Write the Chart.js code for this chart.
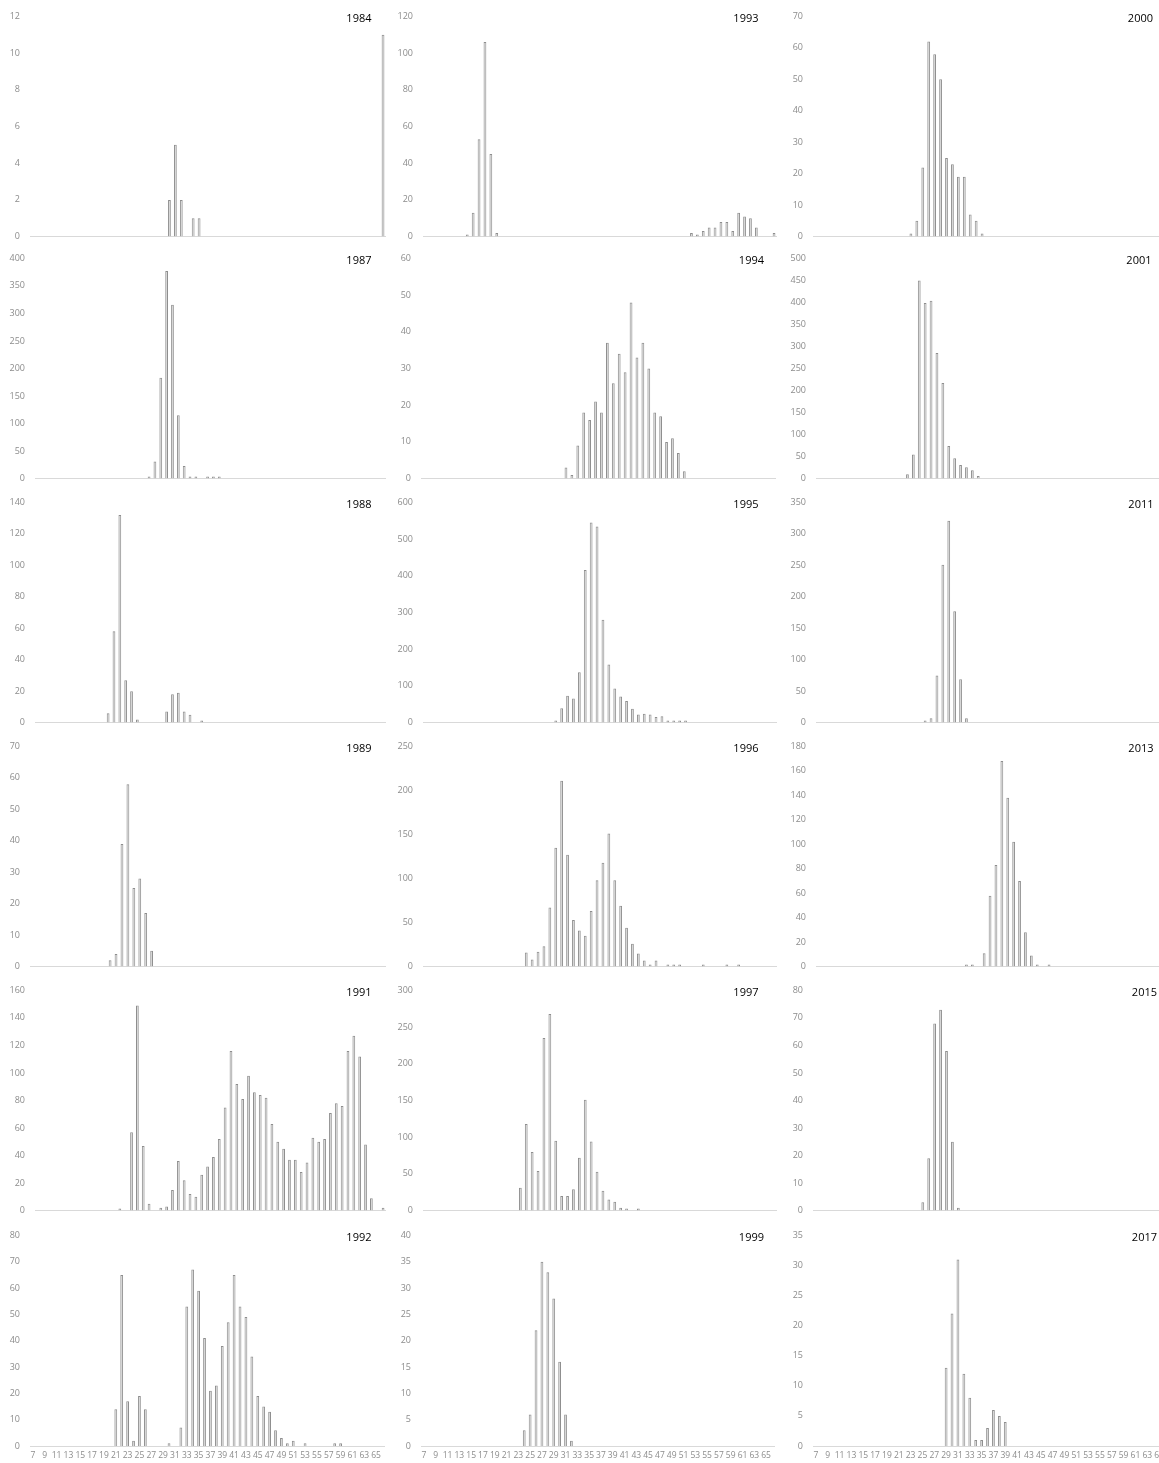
<!DOCTYPE html>
<html>
<head>
<meta charset="utf-8">
<script src="https://cdn.jsdelivr.net/npm/chart.js@4.4.0/dist/chart.umd.min.js"></script>
<style>
  html, body { margin: 0; padding: 0; background: #fff; overflow: hidden; }
  body { width: 1159px; height: 1463px; position: relative; }
  .panel { position: absolute; }
</style>
</head>
<body>
<script>
// Age categories along the x axis (same for every panel)
const ages = [7, 8, 9, 10, 11, 12, 13, 14, 15, 16, 17, 18, 19, 20, 21, 22, 23, 24, 25, 26,
  27, 28, 29, 30, 31, 32, 33, 34, 35, 36, 37, 38, 39, 40, 41, 42, 43, 44, 45, 46,
  47, 48, 49, 50, 51, 52, 53, 54, 55, 56, 57, 58, 59, 60, 61, 62, 63, 64, 65, 66];

// Panel years, read down each column
const years = ['1984', '1987', '1988', '1989', '1991', '1992',
  '1993', '1994', '1995', '1996', '1997', '1999',
  '2000', '2001', '2011', '2013', '2015', '2017'];

// Each year: first age with a count, then the counts from that age on
const start1984 = 30;
const counts1984 = [2, 5, 2, 0, 1, 1, 0, 0, 0, 0, 0, 0, 0, 0, 0, 0, 0, 0, 0, 0, 0, 0, 0, 0, 0, 0,
  0, 0, 0, 0, 0, 0, 0, 0, 0, 0, 11];
const start1987 = 26;
const counts1987 = [4, 31, 183, 377, 316, 115, 23, 4, 4, 0, 2, 2, 2];
const start1988 = 19;
const counts1988 = [6, 58, 132, 27, 20, 2, 0, 0, 0, 0, 7, 18, 19, 7, 5, 0, 1];
const start1989 = 20;
const counts1989 = [2, 4, 39, 58, 25, 28, 17, 5];
const start1991 = 21;
const counts1991 = [1, 0, 57, 149, 47, 5, 0, 2, 3, 15, 36, 22, 12, 10, 26, 32, 39, 52, 75, 116,
  92, 81, 98, 86, 84, 82, 63, 50, 45, 37, 37, 28, 35, 53, 50, 52, 71, 78, 76, 116,
  127, 112, 48, 9, 0, 2];
const start1992 = 21;
const counts1992 = [14, 65, 17, 2, 19, 14, 0, 0, 0, 1, 0, 7, 53, 67, 59, 41, 21, 23, 38, 47,
  65, 53, 49, 34, 19, 15, 13, 6, 3, 1, 2, 0, 1, 0, 0, 0, 0, 1, 1];
const start1993 = 14;
const counts1993 = [1, 13, 53, 106, 45, 2, 0, 0, 0, 0, 0, 0, 0, 0, 0, 0, 0, 0, 0, 0, 0, 0,
  0, 0, 0, 0, 0, 0, 0, 0, 0, 0, 0, 0, 0, 0, 0, 0,
  2, 1, 3, 5, 5, 8, 8, 3, 13, 11, 10, 5, 0, 0, 2];
const start1994 = 31;
const counts1994 = [3, 1, 9, 18, 16, 21, 18, 37, 26, 34, 29, 48, 33, 37, 30, 18, 17, 10, 11, 7, 2];
const start1995 = 29;
const counts1995 = [2, 39, 73, 66, 137, 416, 545, 534, 280, 158, 93, 71, 59, 38, 22, 24, 22, 15,
  17, 6, 3, 6, 3];
const start1996 = 24;
const counts1996 = [16, 8, 17, 23, 67, 135, 211, 127, 53, 41, 35, 63, 98, 118, 151, 98, 69, 44,
  26, 15, 7, 2, 7, 0, 1, 2, 1, 0, 0, 0, 1, 0, 0, 0, 1, 0, 1];
const start1997 = 23;
const counts1997 = [31, 118, 80, 54, 235, 268, 95, 20, 20, 29, 72, 151, 94, 53, 27, 15, 12, 4, 2, 0, 1];
const start1999 = 24;
const counts1999 = [3, 6, 22, 35, 33, 28, 16, 6, 1];
const start2000 = 23;
const counts2000 = [1, 5, 22, 62, 58, 50, 25, 23, 19, 19, 7, 5, 1];
const start2001 = 22;
const counts2001 = [10, 55, 450, 399, 404, 285, 217, 74, 46, 31, 26, 19, 6];
const start2011 = 25;
const counts2011 = [2, 7, 75, 251, 321, 177, 69, 7];
const start2013 = 32;
const counts2013 = [1, 1, 0, 11, 58, 83, 168, 138, 102, 70, 28, 9, 1, 0, 1];
const start2015 = 25;
const counts2015 = [3, 19, 68, 73, 58, 25, 1];
const start2017 = 29;
const counts2017 = [13, 22, 31, 12, 8, 1, 1, 3, 6, 5, 4];

// y axis: top tick and tick step of each panel
const yMax = [12, 400, 140, 70, 160, 80, 120, 60, 600, 250, 300, 40, 70, 500, 350, 180, 80, 35];
const yStep = [2, 50, 20, 10, 20, 10, 20, 10, 100, 50, 50, 5, 10, 50, 50, 20, 10, 5];

const starts = [start1984, start1987, start1988, start1989, start1991, start1992,
  start1993, start1994, start1995, start1996, start1997, start1999,
  start2000, start2001, start2011, start2013, start2015, start2017];
const counts = [counts1984, counts1987, counts1988, counts1989, counts1991, counts1992,
  counts1993, counts1994, counts1995, counts1996, counts1997, counts1999,
  counts2000, counts2001, counts2011, counts2013, counts2015, counts2017];

// Page layout (pixels): where each plot area should land on the page
const rowTop = [16, 258.5, 502.5, 746, 990.5, 1235.5];
const rowHeight = [220, 220, 220, 220, 220, 211];
const plotLeft2 = [30, 421, 813];      // panels with 1-2 digit tick labels
const plotLeft3 = [35, 422.5, 815.5];  // panels with 3 digit tick labels
const plotRight = [386, 776, 1169];
const titleRight = [371.5, 371.5, 371.5, 371.5, 371.5, 371.5,
  758, 764, 758, 758, 758, 764,
  1153, 1151, 1153, 1153, 1157, 1157];
const yAxisWidth = 40;

const yTickFont = { family: '"Open Sans", sans-serif', size: 9 };
const xTickFont = { family: '"Open Sans", sans-serif', size: 8.5 };
const tickColor = '#8c8c8c';

// Year label in the top right corner of each panel
const yearTitle = {
  id: 'yearTitle',
  afterDraw(chart, args, opts) {
    if (!opts.text) return;
    const ctx = chart.ctx;
    ctx.save();
    ctx.font = '11px "Open Sans", sans-serif';
    ctx.fillStyle = '#000';
    ctx.textAlign = 'right';
    ctx.textBaseline = 'middle';
    ctx.fillText(opts.text, opts.right, chart.chartArea.top + 2.5);
    ctx.restore();
  }
};

// zero counts get no bar at all, like the original
function fullSeries(start, values) {
  return ages.map(a => {
    const k = a - start;
    return k >= 0 && k < values.length && values[k] > 0 ? values[k] : null;
  });
}

function panelConfig(i, bottom, titleText, titleX) {
  return {
    type: 'bar',
    data: {
      labels: ages,
      datasets: [{
        data: fullSeries(starts[i], counts[i]),
        backgroundColor: '#d2d2d2',
        borderColor: '#8e8e8e',
        borderWidth: 1,
        barPercentage: 0.47,
        categoryPercentage: 1,
        minBarLength: 2
      }]
    },
    options: {
      responsive: false,
      maintainAspectRatio: false,
      animation: false,
      devicePixelRatio: 1,
      layout: { padding: { top: 10, bottom: bottom ? 0 : 10, left: 0, right: 0 } },
      plugins: {
        legend: { display: false },
        tooltip: { enabled: false },
        yearTitle: { text: titleText, right: titleX }
      },
      scales: {
        x: {
          grid: { display: false, drawTicks: false },
          border: { display: true, color: '#d9d9d9', width: 1 },
          ticks: {
            display: bottom,
            autoSkip: false,
            maxRotation: 0,
            minRotation: 0,
            padding: 4,
            color: tickColor,
            font: xTickFont,
            callback: (v, idx) => (ages[idx] % 2 ? String(ages[idx]) : '')
          },
          afterFit: s => { s.height = bottom ? 20 : 0; }
        },
        y: {
          min: 0,
          max: yMax[i],
          grid: { display: false, drawTicks: false },
          border: { display: false },
          ticks: { stepSize: yStep[i], padding: 10, color: tickColor, font: yTickFont },
          afterFit: s => { s.width = yAxisWidth; }
        }
      }
    },
    plugins: [yearTitle]
  };
}

years.forEach((year, i) => {
  const col = Math.floor(i / 6);
  const row = i % 6;
  const bottom = row === 5;
  const pl = (yMax[i] >= 100 ? plotLeft3 : plotLeft2)[col];
  const plotW = Math.round(plotRight[col] - pl);

  // first pass on a loose canvas to find how far the plot area sits from the edges
  const probe = document.createElement('canvas');
  probe.width = 500;
  probe.height = 400;
  const test = new Chart(probe, panelConfig(i, bottom, '', 0));
  const ca = test.chartArea;
  const insetTop = ca.top, insetBottom = 400 - ca.bottom;
  const insetLeft = ca.left, insetRight = 500 - ca.right;
  test.destroy();

  const w = Math.round(insetLeft + plotW + insetRight);
  const h = Math.round(insetTop + rowHeight[row] + insetBottom);
  const left = pl - insetLeft;
  const top = rowTop[row] - insetTop;

  const wrap = document.createElement('div');
  wrap.className = 'panel';
  wrap.style.left = left + 'px';
  wrap.style.top = top + 'px';
  const canvas = document.createElement('canvas');
  canvas.width = w;
  canvas.height = h;
  canvas.style.width = w + 'px';
  canvas.style.height = h + 'px';
  wrap.appendChild(canvas);
  document.body.appendChild(wrap);

  new Chart(canvas, panelConfig(i, bottom, year, titleRight[i] - left));
});
</script>
</body>
</html>
